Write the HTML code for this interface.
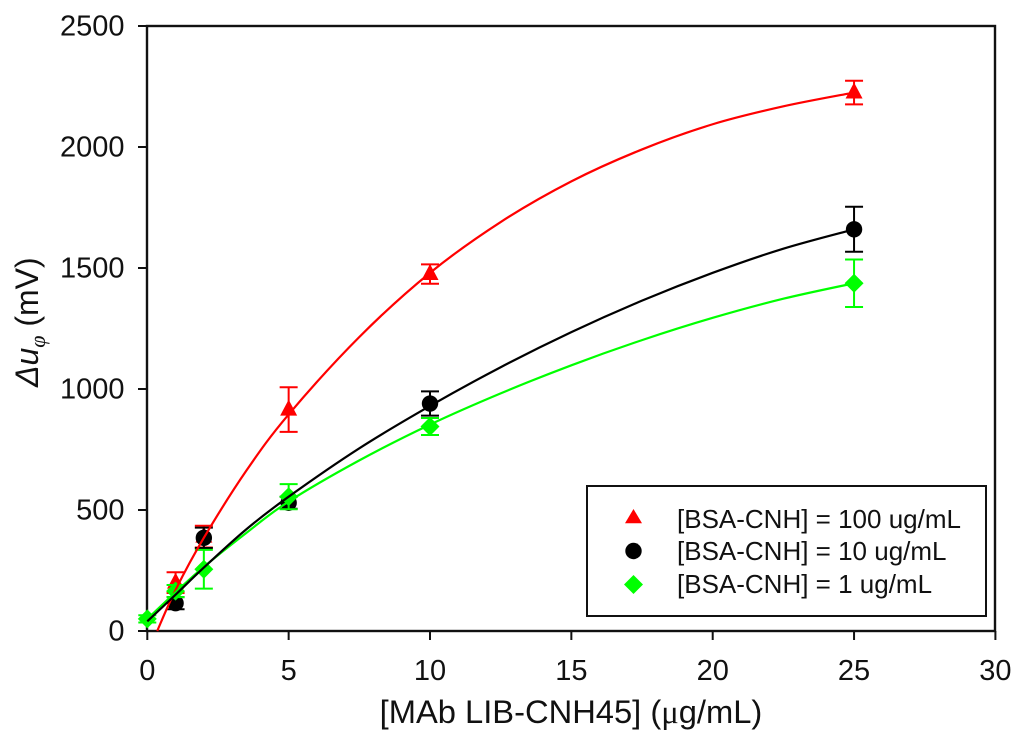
<!DOCTYPE html>
<html>
<head>
<meta charset="utf-8">
<style>
html,body{margin:0;padding:0;background:#fff;width:1024px;height:745px;overflow:hidden}
svg{display:block}
text{font-family:"Liberation Sans",sans-serif;fill:#111}
</style>
</head>
<body>
<svg id="chart" width="1024" height="745" viewBox="0 0 1024 745" xmlns="http://www.w3.org/2000/svg">
  <rect x="147" y="26" width="848" height="605" fill="none" stroke="#111" stroke-width="2.4"/>
  <g id="ticks"></g>
  <g id="marks"></g>
  <g id="curves"></g>
  <text x="571" y="723" font-size="32.7" text-anchor="middle">[MAb LIB-CNH45] (<tspan font-family="Liberation Serif">μ</tspan>g/mL)</text>
  <text transform="translate(38,387) rotate(-90)" font-size="32"><tspan font-style="italic">Δu</tspan><tspan font-style="italic" font-size="22" dy="7" font-family="Liberation Serif">φ</tspan><tspan dy="-7"> (mV)</tspan></text>
  <g>
    <rect x="587" y="486" width="399" height="130" fill="#fff" stroke="#111" stroke-width="2"/>
    <polygon points="633.500,509 625,523.300 642,523.300" fill="#ff0000"/>
    <circle cx="633.500" cy="551" r="8.2" fill="#000"/>
    <polygon points="633.500,575 643,584.500 633.500,594 624,584.500" fill="#00ff00"/>
    <text x="677" y="528" font-size="26">[BSA-CNH] = 100 ug/mL</text>
    <text x="677" y="560" font-size="26">[BSA-CNH] = 10 ug/mL</text>
    <text x="677" y="593" font-size="26">[BSA-CNH] = 1 ug/mL</text>
  </g>
</svg>
<script>
// Tick labels
const xTickValues = [0, 5, 10, 15, 20, 25, 30];
const yTickValues = [0, 500, 1000, 1500, 2000, 2500];

// Measured points: concentration, mean, error
const redX = [1, 2, 5, 10, 25];
const redY = [200, 390, 915, 1475, 2225];
const redErr = [43, 45, 92, 40, 49];
const blackX = [1, 2, 5, 10, 25];
const blackY = [115, 385, 530, 940, 1660];
const blackErr = [25, 42, 25, 50, 93];
const greenX = [0, 1, 2, 5, 10, 25];
const greenY = [50, 165, 255, 555, 845, 1437];
const greenErr = [15, 25, 80, 52, 35, 98];

// Fitted curves
const redCurveX = [0.35, 1, 2, 3.500, 5, 7.500, 10, 12.500, 15, 17.500, 20, 22.500, 25];
const redCurveY = [0, 170, 385, 662, 895, 1215, 1480, 1690, 1858, 1990, 2094, 2168, 2225];
const blackCurveX = [0, 1, 2, 3.500, 5, 7.500, 10, 12.500, 15, 17.500, 20, 22.500, 25];
const blackCurveY = [40, 150, 262, 420, 555, 755, 930, 1090, 1235, 1365, 1480, 1580, 1660];
const greenCurveX = [0, 1, 2, 3.500, 5, 7.500, 10, 12.500, 15, 17.500, 20, 22.500, 25];
const greenCurveY = [50, 160, 265, 405, 535, 705, 853, 982, 1098, 1202, 1294, 1373, 1437];

const NS = 'http://www.w3.org/2000/svg';
function sx(v) { return 147.3 + v * 28.27; }
function sy(v) { return 631 - v * 0.242; }

const ticksG = document.getElementById('ticks');
const marksG = document.getElementById('marks');
const curvesG = document.getElementById('curves');

function make(tag, attrs, parent) {
  const el = document.createElementNS(NS, tag);
  for (const k in attrs) el.setAttribute(k, attrs[k]);
  parent.appendChild(el);
  return el;
}

xTickValues.forEach(function (v) {
  const t = make('line', { x1: sx(v), x2: sx(v), y1: 631, y2: 640, stroke: '#111', 'stroke-width': 2 }, ticksG);
  
  
  const l = make('text', { x: sx(v), y: 680, 'font-size': 29, 'text-anchor': 'middle' }, ticksG);
  l.textContent = v;
  
  
});
yTickValues.forEach(function (v) {
  const t = make('line', { x1: 138, x2: 147, y1: sy(v), y2: sy(v), stroke: '#111', 'stroke-width': 2 }, ticksG);
  
  
  const l = make('text', { x: 124.5, y: sy(v) + 9.5, 'font-size': 29, 'text-anchor': 'end' }, ticksG);
  l.textContent = v;
  
  
});

function drawMarks(xs, ys, errs, color, shape) {
  xs.forEach(function (xv, i) {
    const cx = sx(xv), cy = sy(ys[i]);
    const top = sy(ys[i] + errs[i]), bot = sy(ys[i] - errs[i]);
    const e = make('path', {
      d: 'M' + cx + ' ' + top + 'V' + bot + 'M' + (cx - 9) + ' ' + top + 'H' + (cx + 9) + 'M' + (cx - 9) + ' ' + bot + 'H' + (cx + 9),
      stroke: color, 'stroke-width': 2, fill: 'none'
    }, marksG);
    
    
    let m;
    if (shape === 'circle') {
      m = make('circle', { cx: cx, cy: cy, r: 8.2, fill: color }, marksG);
    } else if (shape === 'triangle') {
      m = make('polygon', { points: cx + ',' + (cy - 10) + ' ' + (cx - 8.5) + ',' + (cy + 6) + ' ' + (cx + 8.5) + ',' + (cy + 6), fill: color }, marksG);
    } else {
      m = make('polygon', { points: cx + ',' + (cy - 9.5) + ' ' + (cx + 9.5) + ',' + cy + ' ' + cx + ',' + (cy + 9.5) + ' ' + (cx - 9.5) + ',' + cy, fill: color }, marksG);
    }
    
    
  });
}

function drawCurve(xs, ys, color) {
  const pts = xs.map(function (x, i) { return [sx(x), sy(ys[i])]; });
  let d = 'M' + pts[0][0] + ' ' + pts[0][1];
  for (let i = 0; i < pts.length - 1; i++) {
    const p0 = pts[Math.max(i - 1, 0)], p1 = pts[i], p2 = pts[i + 1], p3 = pts[Math.min(i + 2, pts.length - 1)];
    const c1x = p1[0] + (p2[0] - p0[0]) / 6, c1y = p1[1] + (p2[1] - p0[1]) / 6;
    const c2x = p2[0] - (p3[0] - p1[0]) / 6, c2y = p2[1] - (p3[1] - p1[1]) / 6;
    d += 'C' + c1x + ' ' + c1y + ' ' + c2x + ' ' + c2y + ' ' + p2[0] + ' ' + p2[1];
  }
  const c = make('path', { d: d, fill: 'none', stroke: color, 'stroke-width': 2.2 }, curvesG);
  
  
}

drawMarks(redX, redY, redErr, '#ff0000', 'triangle');
drawMarks(blackX, blackY, blackErr, '#000000', 'circle');
drawMarks(greenX, greenY, greenErr, '#00ff00', 'diamond');
drawCurve(redCurveX, redCurveY, '#ff0000');
drawCurve(greenCurveX, greenCurveY, '#00ff00');
drawCurve(blackCurveX, blackCurveY, '#000000');
</script>
</body>
</html>
